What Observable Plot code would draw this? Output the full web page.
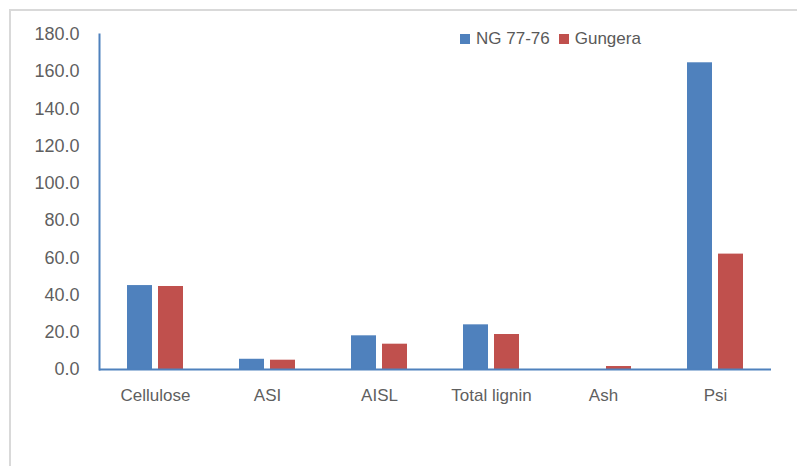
<!DOCTYPE html>
<html><head><meta charset="utf-8">
<script src="https://cdn.jsdelivr.net/npm/d3@7"></script>
<script src="https://cdn.jsdelivr.net/npm/@observablehq/plot@0.6"></script>
<style>
body{margin:0;background:#fff;}
#wrap{position:relative;width:797px;height:466px;overflow:hidden;background:#fff;}
#box{position:absolute;left:9px;top:9px;width:820px;height:480px;border:2px solid #d9d9d9;box-sizing:border-box;}
#chart{position:absolute;left:0;top:0;}
#chart svg g[aria-label="y-axis tick label"]{font-size:18px;}
#legend{position:absolute;left:460px;top:29px;font:17px "Liberation Sans",sans-serif;color:#595959;display:flex;align-items:center;white-space:nowrap;}
#legend .sw{display:inline-block;width:10px;height:10px;margin-right:6px;}
#legend .it{display:flex;align-items:center;margin-right:9px;}
</style></head>
<body>
<div id="wrap"><div id="box"></div><div id="chart"></div><div id="legend"></div></div>
<script>
const categories = ["Cellulose", "ASI", "AISL", "Total lignin", "Ash", "Psi"];
const seriesNames = ["NG 77-76", "Gungera"];
const ngValues = [45.1, 5.5, 18.1, 24.0, 0, 164.8];
const gungeraValues = [44.6, 5.0, 13.6, 18.8, 1.6, 62.0];
const yTicks = [0, 20, 40, 60, 80, 100, 120, 140, 160, 180];
const colors = ["#4f81bd", "#c0504d"];

const data = categories.flatMap((c, i) => [
  {cat: c, series: seriesNames[0], value: ngValues[i]},
  {cat: c, series: seriesNames[1], value: gungeraValues[i]}
]);

const chart = Plot.plot({
  width: 797, height: 466,
  marginLeft: 97, marginRight: 24, marginTop: 34, marginBottom: 97,
  style: {fontFamily: "Liberation Sans, sans-serif", fontSize: "17px", color: "#5f5f5f", background: "transparent"},
  fx: {domain: categories, paddingInner: 0, paddingOuter: 0, label: null, axis: "bottom", tickSize: 0, tickPadding: 19},
  x: {domain: seriesNames, paddingInner: 0.1875, paddingOuter: 0.855, axis: null},
  y: {domain: [0, 180], ticks: yTicks, tickFormat: d => d.toFixed(1), tickSize: 0, tickPadding: 20, label: null},
  color: {domain: seriesNames, range: colors},
  marks: [
    Plot.barY(data, {fx: "cat", x: "series", y: "value", fill: "series"}),
    Plot.ruleY([0], {stroke: "#4f81bd", strokeWidth: 2}),
    Plot.frame({anchor: "left", stroke: "#4f81bd", strokeWidth: 2, facet: "super"})
  ]
});
document.getElementById("chart").appendChild(chart);

const legend = document.getElementById("legend");
seriesNames.forEach((s, i) => {
  const it = document.createElement("span");
  it.className = "it";
  const sw = document.createElement("span");
  sw.className = "sw";
  sw.style.background = colors[i];
  it.appendChild(sw);
  it.appendChild(document.createTextNode(s));
  legend.appendChild(it);
});
</script>
</body></html>
